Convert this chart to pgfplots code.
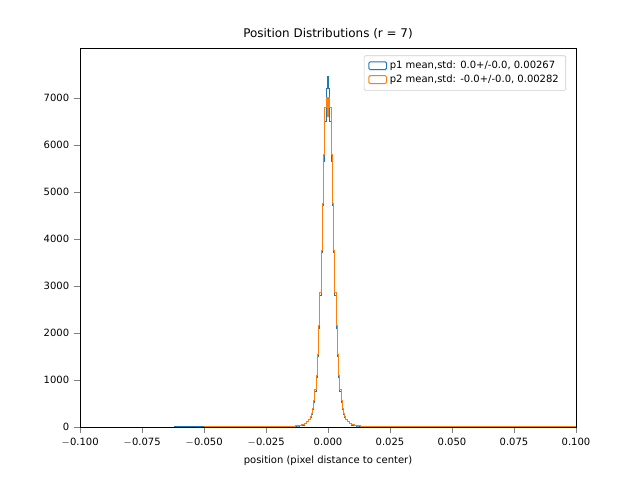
\documentclass[border=0pt]{standalone}
\usepackage{pgfplots}
\pgfplotsset{compat=1.18}
\usepackage{fontspec}
\setmainfont{DejaVu Sans}
\begin{document}
\begin{tikzpicture}[x=1pt,y=1pt]
\path (-57.6,-38.2) rectangle (403.2,307.4);
\begin{axis}[at={(0,0)},anchor=south west,scale only axis,width=357.1pt,height=272.9pt,
xmin=-0.1,xmax=0.1,ymin=0,ymax=8060,
xtick={-0.1,-0.075,-0.05,-0.025,0,0.025,0.05,0.075,0.1},
xticklabels={$-$0.100,$-$0.075,$-$0.050,$-$0.025,0.000,0.025,0.050,0.075,0.100},
ytick={0,1000,...,7000},
scaled ticks=false,
tick label style={font=\fontsize{7.2}{8}\selectfont},
/pgf/number format/assume math mode=true,
yticklabel style={/pgf/number format/1000 sep={}},
tick align=outside,tick pos=left,
title={Position Distributions (r = 7)},title style={font=\fontsize{8.6}{10}\selectfont,yshift=-3pt},
xlabel={position (pixel distance to center)},label style={font=\fontsize{7.2}{8}\selectfont},
legend style={at={(0.98,0.98)},anchor=north east,font=\fontsize{7.2}{8}\selectfont,draw=black!20,rounded corners=1pt,row sep=-1pt},
legend cell align=left,
legend image code/.code={\draw[#1] (0cm,-0.09cm) rectangle (0.45cm,0.11cm);},
]
\addplot[const plot mark mid,color={rgb,255:red,31;green,119;blue,180},line width=0.7pt] coordinates {
(-0.062,0)(-0.04,0)(-0.03,1)(-0.02,3)(-0.016,6)(-0.014,11)(-0.012,20)(-0.011,28)(-0.010,40)(-0.009,65)(-0.008,110)(-0.0075,150)(-0.007,200)(-0.0065,270)(-0.006,380)(-0.0055,530)(-0.005,750)(-0.0045,1050)(-0.004,1500)(-0.0035,2100)(-0.003,2800)(-0.0025,3700)(-0.002,4700)(-0.0015,5650)(-0.001,6500)(-0.0005,7200)(0,7450)(0.0005,7200)(0.001,6500)(0.0015,5650)(0.002,4700)(0.0025,3700)(0.003,2800)(0.0035,2100)(0.004,1500)(0.0045,1050)(0.005,750)(0.0055,530)(0.006,380)(0.0065,270)(0.007,200)(0.0075,150)(0.008,110)(0.009,65)(0.010,40)(0.011,28)(0.012,20)(0.014,11)(0.016,6)(0.02,3)(0.03,1)(0.04,0)(0.05,0)};
\addlegendentry{p1 mean,std: 0.0+/-0.0, 0.00267}
\addplot[const plot mark mid,color={rgb,255:red,255;green,127;blue,14},line width=0.7pt] coordinates {
(-0.05,0)(-0.04,0)(-0.03,1)(-0.02,3)(-0.016,7)(-0.014,12)(-0.012,22)(-0.011,31)(-0.010,45)(-0.009,70)(-0.008,120)(-0.0075,160)(-0.007,215)(-0.0065,290)(-0.006,400)(-0.0055,560)(-0.005,800)(-0.0045,1100)(-0.004,1550)(-0.0035,2150)(-0.003,2850)(-0.0025,3750)(-0.002,4750)(-0.0015,5800)(-0.001,6800)(-0.0005,7000)(0,6600)(0.0005,7000)(0.001,6800)(0.0015,5800)(0.002,4750)(0.0025,3750)(0.003,2850)(0.0035,2150)(0.004,1550)(0.0045,1100)(0.005,800)(0.0055,560)(0.006,400)(0.0065,290)(0.007,215)(0.0075,160)(0.008,120)(0.009,70)(0.010,45)(0.011,31)(0.012,22)(0.014,12)(0.016,7)(0.02,3)(0.03,1)(0.04,0)(0.1,0)};
\addlegendentry{p2 mean,std: -0.0+/-0.0, 0.00282}
\end{axis}
\end{tikzpicture}
\end{document}
